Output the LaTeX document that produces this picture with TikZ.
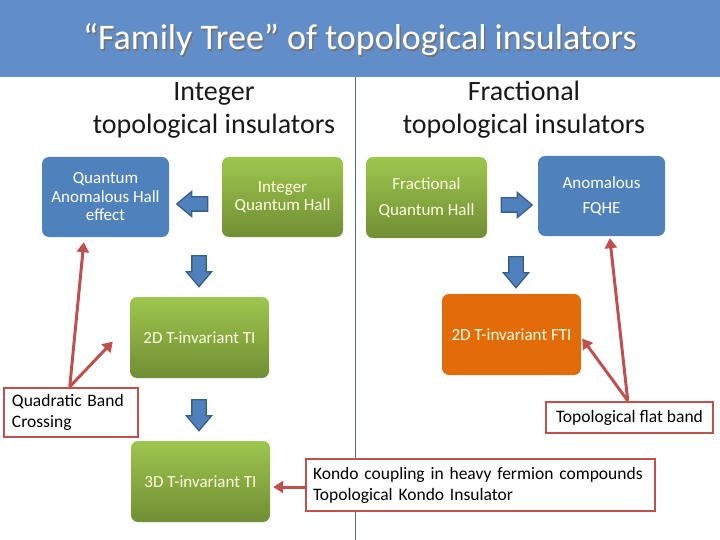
\documentclass[tikz,border=0pt]{standalone}
\usepackage{fontspec}
\setmainfont{Carlito}
\usetikzlibrary{arrows.meta,shapes.arrows,calc}
\definecolor{titlebar}{RGB}{97,142,200}
\definecolor{boxblue}{RGB}{79,129,189}
\definecolor{arrowedge}{RGB}{56,93,138}
\definecolor{greentop}{RGB}{158,198,78}
\definecolor{greenbot}{RGB}{112,142,52}
\definecolor{ftiorange}{RGB}{227,108,10}
\definecolor{redb}{RGB}{192,80,77}
\definecolor{divider}{RGB}{79,107,138}
\definecolor{creamtext}{RGB}{255,255,225}
\tikzset{
  box/.style={rounded corners=7pt, align=center, inner sep=2pt,
    font=\fontsize{17}{18.5}\selectfont},
  bluebox/.style={box, fill=boxblue, text=white},
  greenbox/.style={box, top color=greentop, bottom color=greenbot, text=creamtext},
  orangebox/.style={box, fill=ftiorange, text=creamtext},
  redbox/.style={draw=redb, line width=2.5pt, fill=white, text=black,
    font=\fontsize{17.5}{21}\selectfont},
  redarrow/.style={draw=redb, line width=3pt, -{Triangle[width=12pt,length=10pt]}},
  blockarrow/.style={single arrow, draw=arrowedge, fill=boxblue, line width=1.3pt,
    inner sep=6.5pt, single arrow head extend=5.5pt, single arrow tip angle=80,
    minimum height=31pt},
  header/.style={align=center, text=black!90, font=\fontsize{28}{33}\selectfont},
}
\begin{document}
\begin{tikzpicture}[x=1pt,y=-1pt]
\useasboundingbox (0,0) rectangle (720,540);
\fill[titlebar] (0,0) rectangle (720,77);
\node[text=black!55, font=\fontsize{36}{40}\selectfont] at (361.5,41.5) {“Family Tree” of topological insulators};
\node[text=white, font=\fontsize{36}{40}\selectfont] (title) at (360,40) {“Family Tree” of topological insulators};
\draw[divider, line width=0.8pt] (355,77) -- (355,540);

\node[header] (hint) at (214,110) {Integer\\topological insulators};
\node[header] (hfrac) at (524,110) {Fractional\\topological insulators};

\node[bluebox, minimum width=127pt, minimum height=80pt] (qah) at (105.5,197) {Quantum\\Anomalous Hall\\effect};
\node[greenbox, minimum width=121pt, minimum height=80pt] (iqh) at (282.5,197) {Integer\\Quantum Hall};
\node[greenbox, minimum width=121pt, minimum height=81pt, font=\fontsize{17}{26}\selectfont] (fqh) at (426.5,197.5) {Fractional\\Quantum Hall};
\node[bluebox, minimum width=127pt, minimum height=80pt, font=\fontsize{17}{25}\selectfont] (afqhe) at (601.5,196) {Anomalous\\FQHE};
\node[greenbox, minimum width=139pt, minimum height=81pt] (ti2) at (199.5,337.5) {2D T-invariant TI};
\node[orangebox, minimum width=139pt, minimum height=81pt] (fti) at (511.5,334.5) {2D T-invariant FTI};
\node[greenbox, minimum width=139pt, minimum height=81pt] (ti3) at (200.5,481.5) {3D T-invariant TI};

\node[blockarrow, shape border rotate=180] (arrL) at (196.5,204) {};
\node[blockarrow] (arrR) at (512.5,205) {};
\node[blockarrow, shape border rotate=270] (arrD1) at (199,267) {};
\node[blockarrow, shape border rotate=270] (arrD2) at (199,411) {};
\node[blockarrow, shape border rotate=270] (arrD3) at (516,268) {};

\node[redbox, text width=118pt, inner xsep=8pt, minimum height=49pt, align=left] (qbc) at (71,412.5) {Quadratic Band\\Crossing};
\node[redbox, minimum width=167pt, minimum height=31pt, align=center, inner sep=2pt] (tfb) at (629.5,417.5) {Topological flat band};
\node[redbox, text width=335pt, inner xsep=7pt, minimum height=52pt, align=left] (kondo) at (480.5,485) {Kondo coupling in heavy fermion compounds\\Topological Kondo Insulator};

\coordinate (qbcA) at ($(qbc.north west)+(67,0)$);
\coordinate (qahTip) at ($(qah.south west)+(42,5)$);
\coordinate (ti2Tip) at ($(ti2.west)+(-17,4)$);
\coordinate (tfbA) at ($(tfb.north west)+(83,0)$);
\coordinate (afqTip) at ($(afqhe.south west)+(72,2)$);
\coordinate (ftiTip) at ($(fti.east)+(1,4)$);
\coordinate (kondoA) at ($(kondo.west)+(0,2)$);
\coordinate (ti3Tip) at ($(ti3.east)+(3,5.5)$);

\draw[redarrow] (qbcA) -- (qahTip);
\draw[redarrow] (qbcA) -- (ti2Tip);
\draw[redarrow] (tfbA) -- (afqTip);
\draw[redarrow] (tfbA) -- (ftiTip);
\draw[redarrow] (kondoA) -- (ti3Tip);
\end{tikzpicture}
\end{document}
